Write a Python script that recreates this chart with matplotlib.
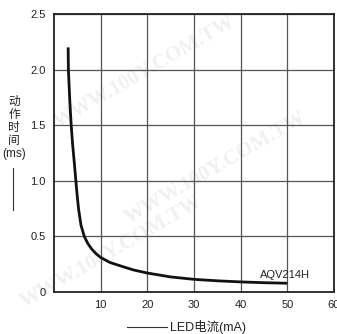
import matplotlib
matplotlib.use("Agg")
import matplotlib.pyplot as plt

# operate time vs LED current
led_ma = [3.05, 3.1, 3.4, 3.7, 4.0, 4.35, 4.7, 5.0, 5.3, 5.8, 6.5, 7.2, 8.1, 9.0, 10,
          12, 14.2, 17, 20, 25, 30, 35, 40, 45, 50]
t_ms = [2.2, 2.0, 1.72, 1.5, 1.33, 1.17, 1.0, 0.86, 0.74, 0.6, 0.5, 0.44, 0.385, 0.345, 0.31,
        0.265, 0.235, 0.198, 0.17, 0.135, 0.113, 0.1, 0.09, 0.083, 0.078]

x_ticks = [10, 20, 30, 40, 50, 60]
y_ticks = [0, 0.5, 1.0, 1.5, 2.0, 2.5]
y_tick_labels = ["0", "0.5", "1.0", "1.5", "2.0", "2.5"]
part_name = "AQV214H"

fonts = ["Liberation Sans", "Noto Sans CJK SC", "DejaVu Sans"]
plt.rcParams["font.family"] = fonts

fig = plt.figure(figsize=(3.37, 3.34), dpi=100)
ax = fig.add_axes([0.160, 0.126, 0.831, 0.832])
ax.set_facecolor("none")

# faint watermark
for (wx, wy) in [(0.15, 0.62), (0.36, 0.33), (0.05, 0.08)]:
    fig.text(wx, wy, "WWW.100Y.COM.TW", fontsize=15, color="#f0f0f0", rotation=30,
             family="Liberation Serif", weight="bold", zorder=-5)

ax.plot(led_ma, t_ms, color="#111111", lw=2.0, solid_capstyle="butt", zorder=3)

ax.set_xlim(0, 60)
ax.set_ylim(0, 2.5)
ax.set_xticks(x_ticks)
ax.set_yticks(y_ticks)
ax.set_yticklabels(y_tick_labels)
ax.tick_params(length=0, labelsize=8, pad=6, colors="#222222")
ax.grid(True, color="#555555", lw=0.9)
for s in ax.spines.values():
    s.set_linewidth(1.3)
    s.set_color("#222222")

ax.text(44.2, 0.155, part_name, fontsize=8, va="center", ha="left", color="#222222")

# y label, stacked vertical
for i, ch in enumerate(["动", "作", "时", "间", "(ms)"]):
    fig.text(14 / 337, 1 - (102 + 13 * i) / 334, ch, fontsize=8.5, ha="center", va="center",
             color="#222222")
fig.add_artist(plt.Line2D([13 / 337, 13 / 337], [1 - 210 / 334, 1 - 168 / 334],
                          color="#333333", lw=0.8))

# x label with leading line
fig.text(170 / 337, 1 - 327 / 334, "LED电流(mA)", fontsize=9, ha="left", va="center",
         color="#222222")
fig.add_artist(plt.Line2D([127 / 337, 167 / 337], [1 - 327 / 334, 1 - 327 / 334],
                          color="#333333", lw=0.8))

fig.savefig("out.png", dpi=100)
